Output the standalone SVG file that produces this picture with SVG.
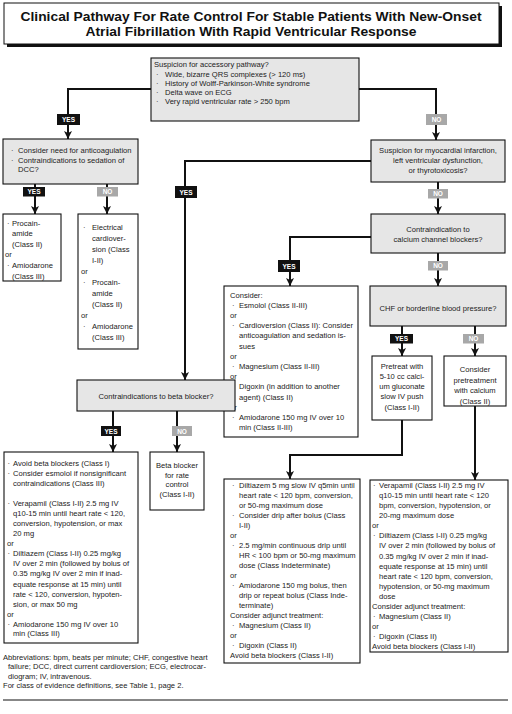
<svg xmlns="http://www.w3.org/2000/svg" width="512" height="714" viewBox="0 0 512 714">
<defs>
<marker id="a" markerUnits="userSpaceOnUse" markerWidth="8" markerHeight="9" refX="8" refY="4" orient="auto" viewBox="0 0 8 8">
<path d="M0,0 L8,4 L0,8 L2,4 Z" fill="#111"/>
</marker>
</defs>
<style>
text{font-family:"Liberation Sans",Arial,Helvetica,sans-serif;font-size:7.6px;fill:#222}
.t{font-size:12.5px;font-weight:bold;fill:#111}
.c{text-anchor:middle}
.fn{font-size:7.6px}
.bx{fill:#fff;stroke:#111;stroke-width:1.1}
.gb{fill:#e6e6e6;stroke:#111;stroke-width:1.1}
.cn{fill:none;stroke:#111;stroke-width:2}
.yes{fill:#111}
.no{fill:#a8a8a8}
.lb{font-size:6.5px;font-weight:bold;fill:#fff;text-anchor:middle}
</style>
<rect width="512" height="714" fill="#fff"/>

<g id="title">
<rect x="7" y="6" width="495" height="41" fill="#111"/>
<rect x="4" y="3" width="495" height="41" fill="#fff" stroke="#111" stroke-width="1"/>
<text class="t c" x="251" y="21" textLength="461" lengthAdjust="spacingAndGlyphs">Clinical Pathway For Rate Control For Stable Patients With New-Onset</text>
<text class="t c" x="251" y="36" textLength="331" lengthAdjust="spacingAndGlyphs">Atrial Fibrillation With Rapid Ventricular Response</text>
</g>

<g id="connectors">
<path class="cn" d="M151,89 H68 V139" marker-end="url(#a)"/>
<path class="cn" d="M359,89 H436 V140" marker-end="url(#a)"/>
<path class="cn" d="M35,184 V214" marker-end="url(#a)"/>
<path class="cn" d="M107,184 V214" marker-end="url(#a)"/>
<path class="cn" d="M371,161 H185 V380" marker-end="url(#a)"/>
<path class="cn" d="M438,182 V214" marker-end="url(#a)"/>
<path class="cn" d="M371,237 H290 V286" marker-end="url(#a)"/>
<path class="cn" d="M438,253 V286" marker-end="url(#a)"/>
<path class="cn" d="M402,326 V356" marker-end="url(#a)"/>
<path class="cn" d="M475,326 V356" marker-end="url(#a)"/>
<path class="cn" d="M113,411 V452" marker-end="url(#a)"/>
<path class="cn" d="M177,411 V452" marker-end="url(#a)"/>
<path class="cn" d="M402,420 V455 H290 V479" marker-end="url(#a)"/>
<path class="cn" d="M475,406 V480" marker-end="url(#a)"/>
</g>

<g id="labels">
<rect class="yes" x="57" y="114" width="23" height="11"/><text class="lb" x="68.5" y="122">YES</text>
<rect class="no" x="426" y="114" width="21" height="11"/><text class="lb" x="436.5" y="122">NO</text>
<rect class="yes" x="23" y="187" width="22" height="9.5"/><text class="lb" x="34" y="194.2">YES</text>
<rect class="no" x="97" y="187" width="21" height="9.5"/><text class="lb" x="107.5" y="194.2">NO</text>
<rect class="yes" x="175" y="186" width="22" height="12"/><text class="lb" x="186" y="194.5">YES</text>
<rect class="no" x="428" y="189" width="20" height="9.5"/><text class="lb" x="438" y="196.2">NO</text>
<rect class="yes" x="278" y="260" width="22" height="12"/><text class="lb" x="289" y="268.5">YES</text>
<rect class="no" x="428" y="261" width="20" height="9.5"/><text class="lb" x="438" y="268.2">NO</text>
<rect class="yes" x="390" y="334" width="23" height="9.5"/><text class="lb" x="401.5" y="341.2">YES</text>
<rect class="no" x="463" y="334" width="21" height="9.5"/><text class="lb" x="473.5" y="341.2">NO</text>
<rect class="yes" x="101" y="426" width="20" height="10"/><text class="lb" x="111" y="433.5">YES</text>
<rect class="no" x="172" y="426" width="20" height="10"/><text class="lb" x="182" y="433.5">NO</text>
</g>

<g id="n-accessory">
<rect class="gb" x="151" y="58" width="208" height="63"/>
<text x="154" y="67">Suspicion for accessory pathway?</text>
<text x="156" y="76.5">·</text><text x="165" y="76.5">Wide, bizarre QRS complexes (&gt; 120 ms)</text>
<text x="156" y="86">·</text><text x="165" y="86">History of Wolff-Parkinson-White syndrome</text>
<text x="156" y="95">·</text><text x="165" y="95">Delta wave on ECG</text>
<text x="156" y="104">·</text><text x="165" y="104">Very rapid ventricular rate &gt; 250 bpm</text>
</g>

<g id="n-anticoag">
<rect class="gb" x="3" y="139" width="135" height="45"/>
<text x="11" y="153">·</text><text x="18" y="153">Consider need for anticoagulation</text>
<text x="11" y="162.5">·</text><text x="18" y="162.5">Contraindications to sedation of</text>
<text x="18" y="171.5">DCC?</text>
</g>

<g id="n-procain">
<rect class="bx" x="3" y="214" width="58" height="67"/>
<text x="7" y="225.5">·</text><text x="12" y="225.5">Procain-</text>
<text x="12" y="236">amide</text>
<text x="12" y="246.5">(Class II)</text>
<text x="5" y="257">or</text>
<text x="7" y="268">·</text><text x="12" y="268">Amiodarone</text>
<text x="12" y="278.5">(Class III)</text>
</g>

<g id="n-electrical">
<rect class="bx" x="78" y="214" width="60" height="135"/>
<text x="83" y="229.5">·</text><text x="92" y="229.5">Electrical</text>
<text x="92" y="240.5">cardiover-</text>
<text x="92" y="251.5">sion (Class</text>
<text x="92" y="262.5">I-II)</text>
<text x="81" y="273.5">or</text>
<text x="83" y="284.5">·</text><text x="92" y="284.5">Procain-</text>
<text x="92" y="295.5">amide</text>
<text x="92" y="306.5">(Class II)</text>
<text x="81" y="317.5">or</text>
<text x="83" y="328.5">·</text><text x="92" y="328.5">Amiodarone</text>
<text x="92" y="339.5">(Class III)</text>
</g>

<g id="n-mi">
<rect class="gb" x="371" y="140" width="134" height="42"/>
<text class="c" x="438" y="152.5">Suspicion for myocardial infarction,</text>
<text class="c" x="438" y="162.5">left ventricular dysfunction,</text>
<text class="c" x="438" y="172.5">or thyrotoxicosis?</text>
</g>

<g id="n-calcium">
<rect class="gb" x="371" y="214" width="134" height="39"/>
<text class="c" x="438" y="231.5">Contraindication to</text>
<text class="c" x="438" y="241.5">calcium channel blockers?</text>
</g>

<g id="n-chf">
<rect class="gb" x="370" y="286" width="136" height="40"/>
<text class="c" x="438" y="310.5">CHF or borderline blood pressure?</text>
</g>

<g id="n-pretreat">
<rect class="bx" x="372" y="356" width="60" height="64"/>
<text class="c" x="402" y="368.5">Pretreat with</text>
<text class="c" x="402" y="378.5">5-10 cc calci-</text>
<text class="c" x="402" y="388.5">um gluconate</text>
<text class="c" x="402" y="398.5">slow IV push</text>
<text class="c" x="402" y="409.5">(Class I-II)</text>
</g>

<g id="n-pretreat-calcium">
<rect class="bx" x="444" y="356" width="62" height="50"/>
<text class="c" x="475" y="371.5">Consider</text>
<text class="c" x="475" y="382.5">pretreatment</text>
<text class="c" x="475" y="392.5">with calcium</text>
<text class="c" x="475" y="403.5">(Class II)</text>
</g>

<g id="n-consider">
<rect class="bx" x="224" y="286" width="134" height="151"/>
<text x="230" y="297.5">Consider:</text>
<text x="232" y="307.7">·</text><text x="239" y="307.7">Esmolol (Class II-III)</text>
<text x="230" y="317.9">or</text>
<text x="232" y="328.1">·</text><text x="239" y="328.1">Cardioversion (Class II): Consider</text>
<text x="239" y="338.3">anticoagulation and sedation is-</text>
<text x="239" y="348.5">sues</text>
<text x="230" y="358.7">or</text>
<text x="232" y="368.9">·</text><text x="239" y="368.9">Magnesium (Class II-III)</text>
<text x="230" y="379.1">or</text>
<text x="232" y="389.3">·</text><text x="239" y="389.3">Digoxin (in addition to another</text>
<text x="239" y="399.5">agent) (Class II)</text>
<text x="230" y="409.7">or</text>
<text x="232" y="419.9">·</text><text x="239" y="419.9">Amiodarone 150 mg IV over 10</text>
<text x="239" y="430.1">min (Class II-III)</text>
</g>

<g id="n-beta-q">
<rect class="gb" x="77" y="380" width="158" height="31"/>
<text class="c" x="156" y="399">Contraindications to beta blocker?</text>
</g>

<g id="n-beta-rate">
<rect class="bx" x="150" y="452" width="54" height="58"/>
<text class="c" x="177" y="467.5">Beta blocker</text>
<text class="c" x="177" y="477.5">for rate</text>
<text class="c" x="177" y="486.5">control</text>
<text class="c" x="177" y="496.5">(Class I-II)</text>
</g>

<g id="n-avoid-beta">
<rect class="bx" x="4" y="452" width="134" height="191"/>
<text x="7.5" y="465.5">·</text><text x="13" y="465.5">Avoid beta blockers (Class I)</text>
<text x="7.5" y="475.5">·</text><text x="13" y="475.5">Consider esmolol if nonsignificant</text>
<text x="13" y="485.5">contraindications (Class III)</text>
<text x="7.5" y="505.5">·</text><text x="13" y="505.5">Verapamil (Class I-II) 2.5 mg IV</text>
<text x="13" y="515.6">q10-15 min until heart rate &lt; 120,</text>
<text x="13" y="525.7">conversion, hypotension, or max</text>
<text x="13" y="535.8">20 mg</text>
<text x="7" y="545.9">or</text>
<text x="7.5" y="556">·</text><text x="13" y="556">Diltiazem (Class I-II) 0.25 mg/kg</text>
<text x="13" y="566.2">IV over 2 min (followed by bolus of</text>
<text x="13" y="576.4">0.35 mg/kg IV over 2 min if inad-</text>
<text x="13" y="586.6">equate response at 15 min) until</text>
<text x="13" y="596.8">rate &lt; 120, conversion, hypoten-</text>
<text x="13" y="607">sion, or max 50 mg</text>
<text x="7" y="617">or</text>
<text x="7.5" y="626.5">·</text><text x="13" y="626.5">Amiodarone 150 mg IV over 10</text>
<text x="13" y="636">min (Class III)</text>
</g>

<g id="n-diltiazem">
<rect class="bx" x="224" y="479" width="136" height="184"/>
<text x="232" y="487.5">·</text><text x="239" y="487.5">Diltiazem 5 mg slow IV q5min until</text>
<text x="239" y="497.5">heart rate &lt; 120 bpm, conversion,</text>
<text x="239" y="507.5">or 50-mg maximum dose</text>
<text x="232" y="517.5">·</text><text x="239" y="517.5">Consider drip after bolus (Class</text>
<text x="239" y="527.5">I-II)</text>
<text x="230" y="537.5">or</text>
<text x="232" y="547.5">·</text><text x="239" y="547.5">2.5 mg/min continuous drip until</text>
<text x="239" y="557.5">HR &lt; 100 bpm or 50-mg maximum</text>
<text x="239" y="567.5">dose (Class Indeterminate)</text>
<text x="230" y="577.5">or</text>
<text x="232" y="587.5">·</text><text x="239" y="587.5">Amiodarone 150 mg bolus, then</text>
<text x="239" y="597.5">drip or repeat bolus (Class Inde-</text>
<text x="239" y="607.5">terminate)</text>
<text x="230" y="617.5">Consider adjunct treatment:</text>
<text x="232" y="627.5">·</text><text x="239" y="627.5">Magnesium (Class II)</text>
<text x="230" y="637.5">or</text>
<text x="232" y="647.5">·</text><text x="239" y="647.5">Digoxin (Class II)</text>
<text x="230" y="657.5">Avoid beta blockers (Class I-II)</text>
</g>

<g id="n-verapamil">
<rect class="bx" x="370" y="480" width="138" height="172"/>
<text x="373" y="487.5">·</text><text x="379" y="487.5">Verapamil (Class I-II) 2.5 mg IV</text>
<text x="379" y="497.5">q10-15 min until heart rate &lt; 120</text>
<text x="379" y="507.6">bpm, conversion, hypotension, or</text>
<text x="379" y="517.7">20-mg maximum dose</text>
<text x="372" y="527.8">or</text>
<text x="373" y="538">·</text><text x="379" y="538">Diltiazem (Class I-II) 0.25 mg/kg</text>
<text x="379" y="548.3">IV over 2 min (followed by bolus of</text>
<text x="379" y="558.5">0.35 mg/kg IV over 2 min if inad-</text>
<text x="379" y="568.7">equate response at 15 min) until</text>
<text x="379" y="578.9">heart rate &lt; 120 bpm, conversion,</text>
<text x="379" y="589">hypotension, or 50-mg maximum</text>
<text x="379" y="599">dose</text>
<text x="372" y="608.5">Consider adjunct treatment:</text>
<text x="373" y="618.5">·</text><text x="379" y="618.5">Magnesium (Class II)</text>
<text x="372" y="628.5">or</text>
<text x="373" y="638.5">·</text><text x="379" y="638.5">Digoxin (Class II)</text>
<text x="372" y="648.5">Avoid beta blockers (Class I-II)</text>
</g>

<g id="footnote">
<text class="fn" x="3" y="660">Abbreviations: bpm, beats per minute; CHF, congestive heart</text>
<text class="fn" x="8" y="669.3">failure; DCC, direct current cardioversion; ECG, electrocar-</text>
<text class="fn" x="8" y="678.6">diogram; IV, intravenous.</text>
<text class="fn" x="3" y="688">For class of evidence definitions, see Table 1, page 2.</text>
<line x1="3" y1="700" x2="508" y2="700" stroke="#111" stroke-width="1.2"/>
</g>
</svg>
